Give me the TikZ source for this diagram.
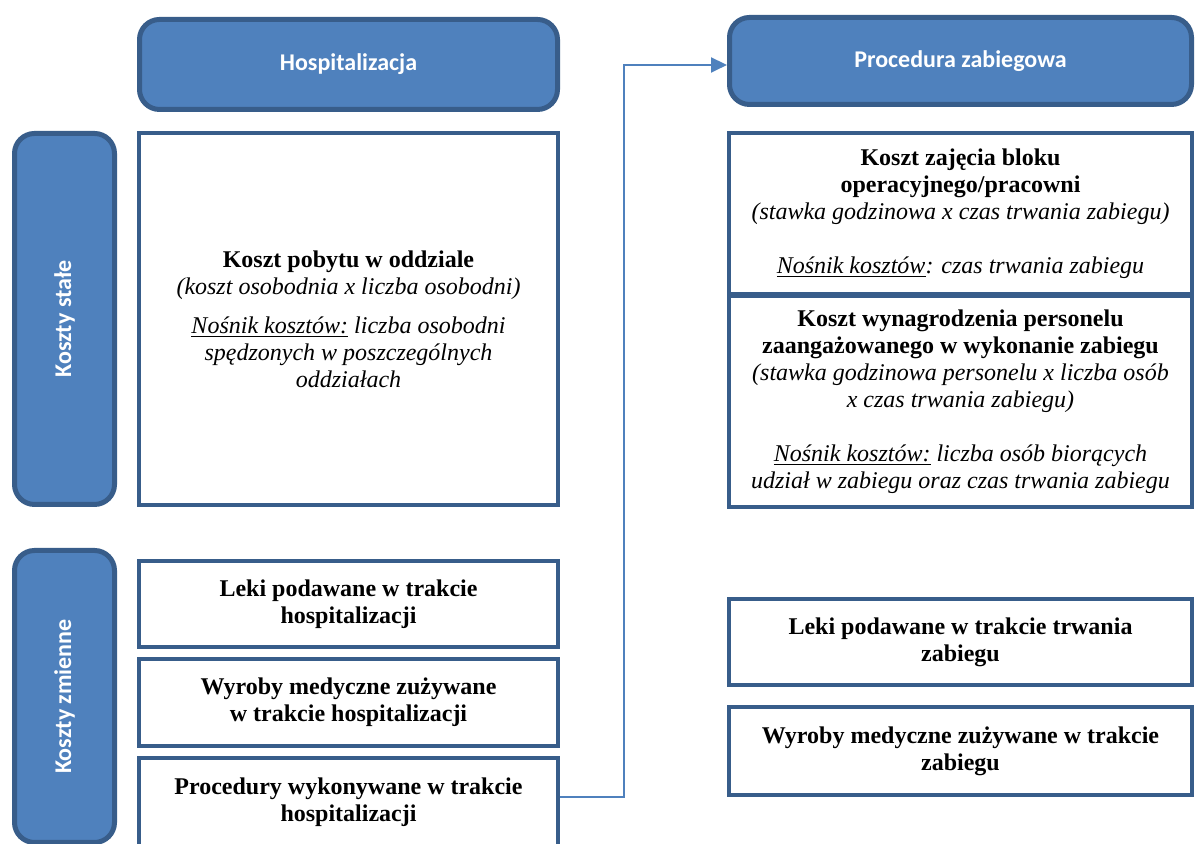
\documentclass[tikz,border=0pt]{standalone}
\usepackage{fontspec}
\setmainfont{Liberation Serif}
\newfontfamily\hdrfont{Carlito}
\usetikzlibrary{arrows.meta}
\definecolor{hdrblue}{HTML}{4F81BD}
\definecolor{hdrline}{HTML}{385D8A}
\tikzstyle{hdr}=[draw=hdrline, fill=hdrblue, line width=2.5pt, rounded corners=10pt, text=white, font=\hdrfont\bfseries\fontsize{12}{14}\selectfont]
\tikzstyle{side}=[hdr, rotate=90, minimum height=50pt]
\tikzstyle{costbox}=[draw=hdrline, fill=white, line width=2pt, align=center, inner sep=2pt, font=\fontsize{12}{13.5}\selectfont]
\tikzstyle{conn}=[draw=hdrblue, line width=1pt, -{Triangle[length=8pt,width=7.5pt]}]

\begin{document}
\begin{tikzpicture}[x=0.5pt, y=0.5pt]
  \useasboundingbox (0,0) rectangle (1195,844);

  % naglowki
  \node[hdr, minimum width=209pt, minimum height=45pt] (hosp) at (348.5,779.5) {Hospitalizacja};
  \node[hdr, minimum width=231pt, minimum height=43.5pt] (prochdr) at (960.5,783) {Procedura zabiegowa};

  % rodzaje kosztow
  \node[side, minimum width=185.5pt] (stale) at (64.5,525) {Koszty stałe};
  \node[side, minimum width=146pt] (zmienne) at (64.5,147.5) {Koszty zmienne};

  % hospitalizacja
  \node[costbox, minimum width=209.5pt, minimum height=186pt] (pobyt) at (348.5,525) {%
    \textbf{Koszt pobytu w oddziale}\\
    \textit{(koszt osobodnia x liczba osobodni)}\\[6pt]
    \textit{\underline{Nośnik kosztów:} liczba osobodni}\\
    \textit{spędzonych w poszczególnych}\\
    \textit{oddziałach}};
  \node[costbox, minimum width=209.5pt, minimum height=43pt] (leki) at (348.5,240) {%
    \textbf{Leki podawane w trakcie}\\ \textbf{hospitalizacji}};
  \node[costbox, minimum width=209.5pt, minimum height=43.5pt] (wyroby) at (348.5,141.5) {%
    \textbf{Wyroby medyczne zużywane}\\ \textbf{w trakcie hospitalizacji}};
  \node[costbox, minimum width=209.5pt, minimum height=44pt] (proc) at (348.5,42) {%
    \textbf{Procedury wykonywane w trakcie}\\ \textbf{hospitalizacji}};

  % procedura zabiegowa
  \node[costbox, minimum width=231.5pt, minimum height=80.5pt] (zajecia) at (960.5,630.5) {%
    \textbf{Koszt zajęcia bloku}\\
    \textbf{operacyjnego/pracowni}\\
    \textit{(stawka godzinowa x czas trwania zabiegu)}\\[13.5pt]
    \textit{\underline{Nośnik kosztów}: czas trwania zabiegu}};
  \node[costbox, minimum width=231.5pt, minimum height=105.5pt] (wynagr) at (960.5,442.5) {%
    \textbf{Koszt wynagrodzenia personelu}\\
    \textbf{zaangażowanego w wykonanie zabiegu}\\
    \textit{(stawka godzinowa personelu x liczba osób}\\
    \textit{x czas trwania zabiegu)}\\[13.5pt]
    \textit{\underline{Nośnik kosztów:} liczba osób biorących}\\
    \textit{udział w zabiegu oraz czas trwania zabiegu}};
  \node[costbox, minimum width=231.5pt, minimum height=43pt] (rleki) at (960.5,202) {%
    \textbf{Leki podawane w trakcie trwania}\\ \textbf{zabiegu}};
  \node[costbox, minimum width=231.5pt, minimum height=44pt] (rwyroby) at (960.5,93) {%
    \textbf{Wyroby medyczne zużywane w trakcie}\\ \textbf{zabiegu}};

  \path[conn] ([yshift=2.5pt]proc.east) -- ++(64,0) |- ([yshift=-2pt]prochdr.west);
\end{tikzpicture}
\end{document}
